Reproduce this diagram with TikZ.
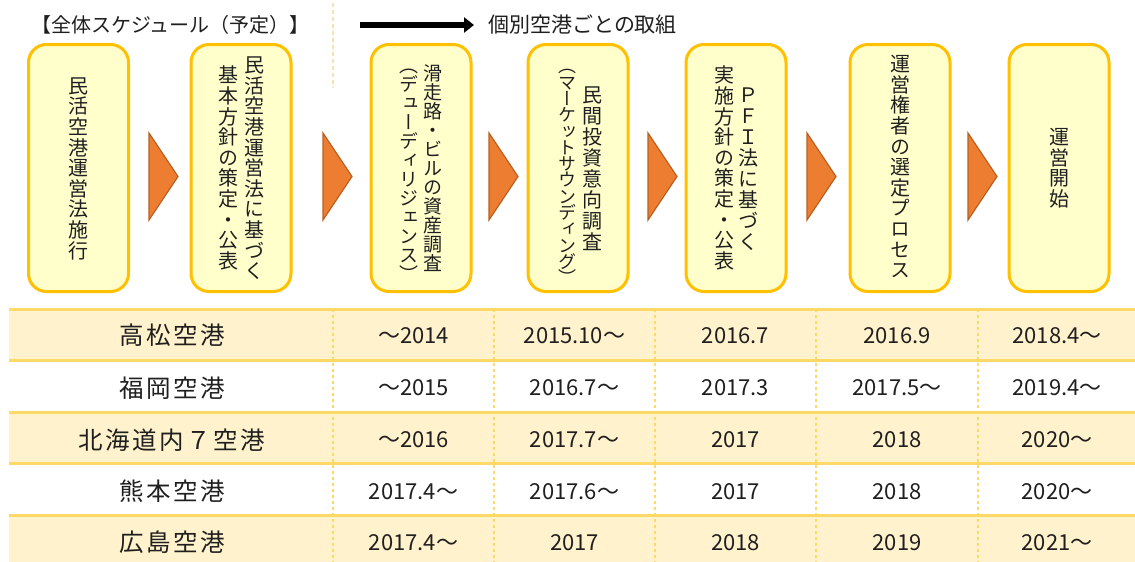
\documentclass[tikz,border=0pt]{standalone}
\usepackage{fontspec}
\usetikzlibrary{arrows.meta}
\newfontfamily\jp{Noto Sans CJK JP}
\newfontfamily\vjp[RawFeature=+vert]{Noto Sans CJK JP}
\newfontfamily\jpname[LetterSpace=10]{Noto Sans CJK JP}
\definecolor{boxfill}{HTML}{FFFFCC}
\definecolor{boxdraw}{HTML}{FFC000}
\definecolor{trifill}{HTML}{ED7D31}
\definecolor{tridraw}{HTML}{B9601F}
\definecolor{rowfill}{HTML}{FFF2CC}
\definecolor{tline}{HTML}{FFD966}
\definecolor{topdash}{HTML}{FCE0B4}
\definecolor{txt}{HTML}{1F1F1F}
\makeatletter
\newcommand\vcol[2][20.6pt]{\vbox{\baselineskip=#1\relax\lineskiplimit=-\maxdimen\lineskip=0pt\relax\vs@go#2\vs@end}}
\def\vs@go#1{\ifx#1\vs@end\else\vs@box{#1}\expandafter\vs@go\fi}
\def\vs@box#1{\hbox to 1em{\hss\vrule width0pt height.88em depth.12em#1\hss}}
\makeatother
\begin{document}
\begin{tikzpicture}[x=1pt,y=-1pt,
  stepbox/.style={draw=boxdraw,fill=boxfill,line width=3pt,rounded corners=18pt,minimum width=100pt,minimum height=247pt,inner sep=0pt},
  vtext/.style={inner sep=0pt,text=txt,font=\vjp\fontsize{20}{20.6}\selectfont},
  tri/.style={fill=trifill,draw=tridraw,line width=1.2pt,line join=miter},
  hline/.style={draw=tline,line width=3pt},
  vline/.style={draw=tline,line width=2.5pt,dash pattern=on 3pt off 3pt},
  cell/.style={inner sep=0pt,text=txt,font=\jp\fontsize{22}{26}\selectfont},
  namecell/.style={inner sep=0pt,text=txt,font=\jpname\fontsize{24.5}{28}\selectfont},
  hdr/.style={anchor=west,inner sep=0pt,text=txt},
]
\useasboundingbox (0,0) rectangle (1135,562);
\fill[white] (0,0) rectangle (1135,562);

% header
\node[hdr,font=\jp\fontsize{20}{24}\selectfont] (title) at (31,25) {【全体スケジュール（予定）】};
\coordinate (d1) at (333,3);
\coordinate (d2) at (333,88);
\draw[topdash,line width=1.5pt,dash pattern=on 4pt off 3pt] (d1) -- (d2);
\coordinate (ar1) at (360,25);
\coordinate (ar2) at (474,25);
\draw[line width=6.5pt,-{Triangle[length=10pt,width=15pt]}] (ar1) -- (ar2);
\node[hdr,font=\jp\fontsize{21}{24}\selectfont] (sub) at (488,25) {個別空港ごとの取組};

% step boxes
\node[stepbox] (b1) at (78.5,168) {};
\node[stepbox] (b2) at (241,168) {};
\node[stepbox] (b3) at (421,168) {};
\node[stepbox] (b4) at (578,168) {};
\node[stepbox] (b5) at (736,168) {};
\node[stepbox] (b6) at (900,168) {};
\node[stepbox] (b7) at (1059,168) {};

\node[vtext] (t1) at (78.5,168) {\vcol{民活空港運営法施行}};
\node[vtext] (t2a) at (254,168) {\vcol{民活空港運営法に基づく}};
\node[vtext] (t2b) at (228,168) {\vcol{基本方針の策定・公表}};
\node[vtext,font=\vjp\fontsize{19}{19}\selectfont] (t3a) at (433,168) {\vcol[19pt]{滑走路・ビルの資産調査}};
\node[vtext,font=\vjp\fontsize{19}{19}\selectfont] (t3b) at (409,170) {\vcol[19pt]{（デューディリジェンス）}};
\node[vtext] (t4a) at (592,168) {\vcol[21pt]{民間投資意向調査}};
\node[vtext,font=\vjp\fontsize{18}{16.3}\selectfont] (t4b) at (567,172) {\vcol[16.3pt]{（マーケットサウンディング）}};
\node[vtext] (t5a) at (748,168) {\vcol[21pt]{ＰＦＩ法に基づく}};
\node[vtext] (t5b) at (724,168) {\vcol{実施方針の策定・公表}};
\node[vtext] (t6) at (900,167) {\vcol{運営権者の選定プロセス}};
\node[vtext] (t7) at (1059,168) {\vcol{運営開始}};

% triangles between boxes
\foreach \xa in {149,323,489,648,807,968} {
  \draw[tri] (\xa,133) -- (\xa+29,176.5) -- (\xa,220) -- cycle;
}

% table
\fill[rowfill] (9,309) rectangle (1135,360);
\fill[rowfill] (9,412) rectangle (1135,463);
\fill[rowfill] (9,515) rectangle (1135,562);
\foreach \xx in {333,494,655,816,978} {
  \draw[vline] (\xx,309) -- (\xx,562);
}
\foreach \yy in {309,360,412,463,515} {
  \draw[hline] (9,\yy) -- (1135,\yy);
}
\foreach \yy/\n/\a/\b/\c/\d/\e [count=\i] in {
  335.5/高松空港/〜2014/2015.10〜/2016.7/2016.9/2018.4〜,
  388/福岡空港/〜2015/2016.7〜/2017.3/2017.5〜/2019.4〜,
  440/北海道内７空港/〜2016/2017.7〜/2017/2018/2020〜,
  491.5/熊本空港/2017.4〜/2017.6〜/2017/2018/2020〜,
  542.5/広島空港/2017.4〜/2017/2018/2019/2021〜} {
  \node[namecell] (n\i) at (172,\yy) {\n};
  \node[cell] (c\i a) at (413.5,\yy) {\a};
  \node[cell] (c\i b) at (574.5,\yy) {\b};
  \node[cell] (c\i c) at (735.5,\yy) {\c};
  \node[cell] (c\i d) at (897,\yy) {\d};
  \node[cell] (c\i e) at (1057,\yy) {\e};
}
\end{tikzpicture}
\end{document}
